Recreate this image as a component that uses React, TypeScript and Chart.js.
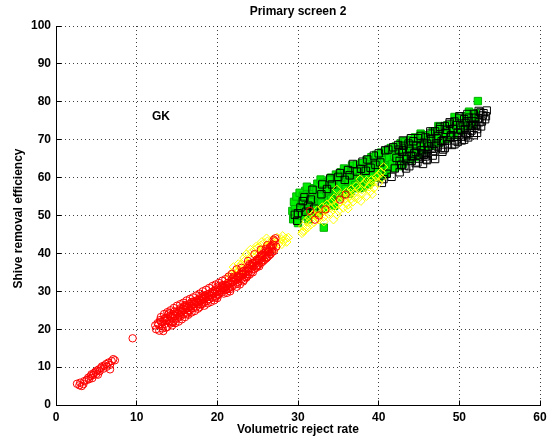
import React, { useEffect, useRef } from 'react';
import { Chart, registerables } from 'chart.js';

Chart.register(...registerables);

const X_TICKS = [0, 10, 20, 30, 40, 50, 60];
const Y_TICKS = [0, 10, 20, 30, 40, 50, 60, 70, 80, 90, 100];
const TITLE = 'Primary screen 2';
const X_LABEL = 'Volumetric reject rate';
const Y_LABEL = 'Shive removal efficiency';
const NOTE_TEXT = 'GK';
const NOTE_POS = [11.9, 76.1];

// red open circles
const redCircles: number[][] = [
  // low cluster
  [2.6, 5.6], [2.9, 5.2], [3.2, 5.0], [3.4, 5.5], [3.5, 6.3], [3.8, 6.6], [4.0, 7.2], [4.1, 6.8], [4.3, 7.6], [4.4, 8.1],
  [4.6, 7.9], [4.7, 8.4], [4.9, 8.8], [5.0, 8.2], [5.1, 9.1], [5.3, 9.4], [5.4, 8.9], [5.6, 9.8], [5.7, 10.2], [5.9, 9.6],
  [6.0, 10.4], [6.2, 10.8], [6.3, 10.1], [6.5, 11.2], [6.7, 10.6], [6.9, 11.6], [7.1, 12.1], [7.3, 11.8], [4.5, 7.1], [5.2, 8.0],
  [6.7, 9.4], [3.0, 5.9],
  // lone point
  [9.5, 17.6],
  // main band
  [12.3, 21.0], [12.4, 20.0], [12.6, 21.6], [12.8, 19.6], [13.0, 22.0], [13.1, 20.8], [13.3, 19.5], [13.4, 22.6], [13.5, 21.4], [13.7, 23.0],
  [13.8, 20.6], [14.0, 22.1], [14.1, 23.5], [14.2, 21.5], [14.4, 22.9], [14.5, 24.0], [14.6, 22.2], [14.8, 23.4], [14.9, 24.5], [15.0, 22.8],
  [15.2, 24.1], [15.3, 25.0], [15.4, 23.3], [15.6, 24.7], [15.7, 25.6], [15.8, 23.9], [16.0, 25.2], [16.1, 26.1], [16.2, 24.4], [16.4, 25.7],
  [16.5, 26.6], [16.6, 24.9], [16.8, 26.2], [16.9, 27.0], [17.0, 25.6], [17.2, 26.7], [17.3, 27.5], [17.4, 26.0], [17.6, 27.1], [17.7, 27.9],
  [17.8, 25.8], [17.9, 26.5], [18.0, 27.6], [18.1, 28.4], [18.3, 27.0], [18.4, 28.0], [18.5, 28.8], [18.7, 27.4], [18.8, 28.5], [18.9, 29.3],
  [19.0, 27.9], [19.2, 28.9], [19.3, 29.8], [19.4, 28.3], [19.6, 29.4], [19.7, 30.3], [19.8, 28.8], [20.0, 29.9], [20.1, 30.8], [20.2, 29.3],
  [20.4, 30.4], [20.5, 31.2], [20.6, 29.8], [20.8, 30.9], [20.9, 31.7], [21.0, 30.3], [21.1, 30.5], [21.2, 31.4], [21.3, 32.2], [21.5, 31.0],
  [21.6, 32.0], [21.7, 32.8], [21.8, 31.2], [22.0, 32.5], [22.1, 33.4], [22.2, 31.8], [22.4, 33.1], [22.5, 34.0], [22.6, 32.5], [22.8, 33.7],
  [22.9, 34.7], [23.0, 33.2], [23.2, 34.4], [23.3, 35.4], [23.4, 33.8], [23.6, 35.0], [23.7, 36.1], [23.8, 34.5], [24.0, 35.8], [24.1, 36.9],
  [24.2, 35.1], [24.4, 36.6], [24.5, 37.6], [24.6, 35.9], [24.8, 37.4], [24.9, 38.4], [25.0, 36.8], [25.2, 38.1], [25.3, 39.2], [25.4, 37.5],
  [25.6, 38.9], [25.7, 40.0], [25.8, 38.2], [26.0, 39.6], [26.1, 40.8], [26.2, 39.0], [26.4, 40.4], [26.5, 41.6], [26.6, 39.8], [26.8, 41.1],
  [26.9, 42.3], [27.0, 40.6], [27.1, 43.2], [27.3, 41.8], [27.2, 44.0],
  [12.7, 21.2], [13.2, 21.9], [13.6, 22.3], [14.3, 23.2], [14.7, 23.6], [15.1, 24.3], [15.5, 24.6], [15.9, 25.0], [16.3, 25.6], [16.7, 26.0],
  [17.1, 26.6], [17.5, 27.0], [17.9, 27.4], [18.2, 27.9], [18.6, 28.3], [19.1, 28.9], [19.5, 29.4], [19.9, 29.8], [20.3, 30.4], [20.7, 30.8],
  [21.1, 31.4], [21.4, 31.8], [21.9, 32.5], [22.3, 33.2], [22.7, 33.9], [23.1, 34.6], [23.5, 35.3], [23.9, 36.1], [24.3, 36.8], [24.7, 37.7],
  [25.1, 38.5], [25.5, 39.2], [25.9, 40.1], [26.3, 40.7], [26.7, 41.5], [13.9, 23.9], [15.4, 25.5], [16.8, 27.2], [18.5, 29.0], [20.6, 31.6],
  [22.6, 33.6], [24.4, 37.4], [26.0, 41.2], [14.5, 21.8], [16.3, 24.1], [18.1, 26.6], [19.8, 28.4], [21.6, 30.6], [23.3, 33.0], [25.1, 37.0],
  [12.9, 22.4], [13.5, 22.9], [14.1, 22.0], [14.7, 24.7], [15.3, 23.6], [15.9, 26.0], [16.5, 25.0], [17.1, 27.3], [17.7, 26.6], [18.3, 28.6],
  [18.9, 27.9], [19.5, 30.0], [20.1, 29.0], [20.7, 31.6], [21.3, 30.6], [21.9, 33.4], [22.5, 32.0], [23.1, 35.2], [23.7, 34.0], [24.3, 37.4],
  [24.9, 36.6], [25.5, 39.6], [26.1, 38.8], [26.7, 42.0], [14.0, 24.2], [16.0, 26.4], [18.0, 28.8], [20.0, 31.2], [22.0, 33.8], [24.0, 37.2],
  // upper side of the band
  [13.0, 23.2], [13.8, 24.5], [14.6, 25.6], [15.4, 26.6], [16.2, 27.6], [17.0, 28.4], [17.8, 29.4], [18.6, 30.4], [19.4, 31.4], [20.2, 32.2],
  [21.0, 33.2], [21.8, 34.6], [22.4, 35.8], [13.4, 24.0], [14.2, 25.0], [15.0, 26.2], [15.8, 27.0], [16.6, 28.0], [17.4, 28.9], [18.2, 30.0],
  [19.0, 30.9], [19.8, 31.8], [20.6, 32.8], [21.4, 33.9], [23.0, 36.2], [23.8, 38.0], [24.6, 39.8], [25.4, 41.0], [26.2, 42.2], [27.0, 43.6],
  // lower side of the band
  [13.6, 20.4], [14.4, 21.0], [15.2, 22.0], [16.0, 23.2], [16.8, 24.4], [17.6, 25.4], [18.4, 26.2], [19.2, 27.2], [20.0, 28.2], [20.8, 29.4],
  [21.6, 30.0], [22.4, 31.2], [23.2, 32.6], [24.0, 34.4], [24.8, 36.2], [25.6, 37.8], [26.4, 39.4], [13.2, 20.2], [14.8, 21.6], [15.6, 22.6],
  [16.4, 23.8], [17.2, 24.8], [18.8, 26.8], [19.6, 27.6], [21.2, 29.6], [22.8, 31.8], [23.6, 33.6], [24.4, 35.0], [25.2, 36.6], [26.0, 38.6],
  [26.8, 40.4],
  // among the second cluster
  [31.5, 51.2], [32.1, 48.9], [32.6, 50.0], [35.2, 54.2], [35.9, 55.5], [33.4, 51.6],
];

// yellow open diamonds
const yellowDiamonds: number[][] = [
  [21.6, 34.2], [21.9, 35.0], [22.2, 35.6], [22.5, 34.9], [22.7, 36.4], [23.0, 37.2], [23.2, 36.0], [23.4, 38.1], [23.6, 39.8], [23.8, 37.4],
  [24.0, 38.8], [24.2, 40.2], [24.4, 39.1], [24.6, 40.9], [24.8, 38.2], [25.0, 41.5], [25.2, 40.0], [25.4, 42.1], [25.6, 41.0], [25.8, 42.8],
  [26.0, 41.6], [26.2, 43.2], [26.4, 40.6], [26.6, 42.4], [26.8, 43.6], [27.0, 42.0], [27.3, 43.0], [27.6, 42.5], [27.9, 43.8], [28.2, 43.2],
  [28.5, 44.0], [24.9, 36.6], [25.5, 38.0], [26.3, 39.2], [23.9, 35.9], [22.9, 35.1], [27.2, 41.2], [28.0, 42.4],
  [22.0, 36.4], [22.6, 37.2], [23.3, 38.8], [24.1, 41.0], [24.8, 41.8], [25.5, 43.0], [26.1, 44.0], [26.7, 43.0], [27.4, 44.2], [28.1, 44.6],
  [28.6, 43.0], [28.8, 44.2], [21.4, 33.4], [22.3, 34.2],
  [30.5, 45.3], [30.6, 47.2], [30.8, 46.0], [31.0, 48.6], [31.2, 46.8], [31.4, 49.4], [31.6, 47.6], [31.8, 50.2], [32.0, 48.2], [32.2, 49.8],
  [32.4, 51.4], [32.6, 48.9], [32.8, 50.6], [33.0, 52.2], [33.2, 49.6], [33.4, 51.3], [33.6, 53.0], [33.8, 50.4], [34.0, 52.0], [34.2, 53.8],
  [34.4, 48.9], [34.6, 52.8], [34.8, 56.9], [35.0, 51.2], [35.2, 53.6], [35.4, 55.4], [35.6, 52.0], [35.8, 54.4], [36.0, 56.2], [36.2, 52.8],
  [36.4, 55.2], [36.6, 57.0], [36.8, 53.6], [37.0, 56.0], [37.2, 57.8], [37.4, 54.4], [37.7, 59.6], [37.9, 56.8], [38.2, 58.4], [38.5, 55.1],
  [38.8, 57.6], [39.1, 59.4], [39.4, 57.2], [39.7, 60.2], [40.0, 58.6], [40.3, 61.4], [40.6, 62.8], [40.4, 59.8], [39.0, 56.4], [36.6, 54.4],
  [30.6, 45.8], [31.0, 47.0], [31.5, 48.4], [32.0, 50.4], [32.5, 49.4], [33.0, 50.8], [33.5, 52.0], [34.0, 50.8], [34.5, 54.6], [35.0, 53.0],
  [35.5, 54.8], [36.0, 53.2], [36.5, 56.0], [37.0, 54.8], [37.5, 57.0], [38.0, 55.8], [38.5, 59.2], [39.0, 58.4], [39.5, 59.0], [40.0, 60.6],
  [33.2, 48.4], [34.8, 50.2], [36.2, 51.8], [37.8, 53.8], [39.2, 55.6],
];

// green filled squares
const greenSquares: number[][] = [
  [29.3, 51.2], [29.4, 49.0], [29.6, 52.6], [29.9, 50.2], [30.1, 54.0], [30.3, 51.4], [30.5, 53.2], [30.7, 49.8], [30.9, 56.5], [31.0, 52.8],
  [31.2, 54.8], [31.4, 51.2], [31.6, 56.0], [31.8, 53.6], [32.0, 57.2], [32.2, 54.4], [32.4, 58.4], [32.6, 52.6], [32.8, 59.5], [33.0, 55.6],
  [33.2, 46.8], [33.3, 57.4], [33.5, 54.2], [33.7, 58.8], [33.9, 56.0], [34.1, 60.0], [34.3, 55.0], [34.5, 58.0], [34.7, 60.8], [34.9, 56.6],
  [35.1, 59.2], [35.3, 61.4], [35.5, 57.4], [35.7, 60.0], [35.9, 62.0], [36.1, 58.2], [36.3, 55.8], [36.5, 61.0], [36.7, 63.2], [36.9, 59.2],
  [37.1, 61.8], [37.3, 57.8], [37.5, 60.2], [37.7, 62.6], [37.9, 58.8], [38.1, 61.2], [38.3, 63.4], [38.5, 59.8], [38.7, 62.0], [38.9, 64.2],
  [39.1, 60.6], [39.3, 62.8], [39.5, 64.8], [39.7, 61.2], [39.9, 63.6], [40.1, 65.4], [40.3, 61.8], [40.5, 64.2], [40.7, 66.0], [40.9, 62.6],
  [41.1, 64.8], [41.3, 66.6], [41.5, 63.2], [41.7, 65.4], [41.9, 67.2], [42.1, 63.8], [42.4, 66.0], [42.7, 67.8], [43.0, 64.6], [43.3, 66.6],
  [43.6, 68.4], [43.9, 65.2], [44.2, 67.2], [44.5, 69.0], [44.8, 66.0],
  [45.1, 68.0], [45.4, 70.2], [45.7, 67.2], [46.0, 69.4], [46.3, 71.0], [46.6, 68.4], [46.9, 70.4], [47.2, 72.0], [47.5, 69.2], [47.8, 71.4],
  [48.1, 73.0], [48.4, 70.2], [48.7, 72.4], [49.0, 74.0], [49.3, 71.2], [49.6, 73.4], [49.9, 75.2], [50.2, 72.4], [50.5, 74.6], [50.8, 76.2],
  [51.1, 73.6], [51.4, 75.6], [51.7, 74.2], [52.0, 77.0], [52.3, 80.2], [51.2, 77.4], [49.4, 76.0], [47.4, 73.6], [45.2, 71.6], [43.1, 69.6],
  [29.5, 53.6], [29.8, 55.0], [30.0, 48.0], [30.2, 56.0], [30.4, 50.0], [30.6, 55.2], [30.8, 51.6], [31.1, 57.6], [31.3, 49.0], [31.5, 53.8],
  [31.7, 50.4], [31.9, 55.6], [32.1, 52.0], [32.3, 56.6], [32.5, 50.6], [32.7, 55.0], [32.9, 53.4], [33.1, 58.6], [33.3, 51.8], [33.5, 56.6],
  [33.7, 53.0], [33.9, 59.4], [34.1, 54.4], [34.3, 57.6], [34.5, 52.6], [34.7, 56.2], [34.9, 59.8], [35.1, 54.8], [35.3, 58.0], [35.5, 55.6],
  [35.7, 62.4], [35.9, 57.0], [36.1, 60.6], [36.3, 59.0], [36.5, 56.4], [36.7, 58.6], [36.9, 62.0], [37.1, 58.0], [37.3, 63.4], [37.5, 57.2],
  [37.7, 60.4], [37.9, 63.8], [38.1, 59.0], [38.3, 61.6], [38.5, 64.6], [38.7, 60.0], [38.9, 62.6], [39.1, 65.4], [39.3, 60.4], [39.5, 63.0],
  [39.7, 66.0], [39.9, 61.4], [40.1, 63.8], [40.3, 66.6], [40.5, 62.2], [40.7, 64.6], [40.9, 67.0], [41.1, 62.8], [41.3, 65.2], [41.5, 67.8],
  [41.7, 63.6], [41.9, 65.8], [42.1, 68.2], [42.3, 64.4], [42.5, 66.6], [42.7, 69.0], [42.9, 65.0], [43.1, 67.2], [43.3, 69.4], [43.5, 65.8],
  [43.7, 67.6], [43.9, 70.0], [44.1, 66.4], [44.3, 68.6], [44.5, 70.6], [44.7, 67.0], [44.9, 69.4],
  [45.3, 69.0], [45.8, 71.2], [46.2, 69.8], [46.7, 72.2], [47.1, 70.8], [47.6, 72.8], [48.0, 71.6], [48.5, 73.8], [48.9, 72.6], [49.4, 74.8],
  [49.8, 73.2], [50.3, 75.6], [50.7, 73.8], [51.2, 76.0], [51.6, 75.0], [52.0, 75.8],
  [38.0, 57.4], [39.0, 58.8], [40.0, 60.0], [41.0, 61.2], [42.0, 62.6], [43.0, 63.6], [44.0, 64.8], [45.0, 66.2], [38.6, 58.2], [40.6, 60.8],
  [42.6, 63.0], [44.6, 65.4],
];

// black open squares
const blackSquares: number[][] = [
  [30.0, 50.6], [30.3, 52.1], [30.6, 53.8], [31.0, 51.0], [31.3, 52.6], [29.9, 48.6], [32.0, 51.8], [32.9, 55.6], [33.6, 57.0], [34.2, 58.2],
  [35.0, 60.2], [35.8, 59.4], [36.4, 60.6], [37.3, 61.6], [37.8, 62.3], [38.4, 61.8], [39.0, 62.6], [39.6, 63.4], [40.2, 64.0],
  [40.6, 59.6], [41.2, 67.4], [41.8, 68.0], [42.4, 68.6], [43.0, 69.8], [41.0, 61.0], [42.0, 62.4],
  [42.6, 64.4], [42.9, 66.8], [43.2, 63.2], [43.5, 65.6], [43.8, 67.6], [44.1, 64.4], [44.4, 66.4], [44.7, 68.4], [45.0, 65.0], [45.3, 67.2],
  [45.6, 69.2], [45.9, 64.8], [46.0, 66.2], [46.2, 68.2], [46.5, 70.2], [46.8, 67.0], [47.1, 69.0], [47.4, 71.0], [47.7, 67.8], [48.0, 69.8],
  [48.3, 71.8], [48.6, 68.8], [48.9, 70.8], [49.2, 72.8], [49.5, 69.8], [49.8, 71.8], [50.1, 73.8], [50.4, 70.8], [50.7, 72.8], [51.0, 74.8],
  [51.3, 71.8], [51.6, 73.8], [51.9, 75.8], [52.2, 72.8], [52.5, 74.6], [52.7, 73.5], [52.9, 76.4], [53.2, 75.4], [53.4, 77.7], [52.6, 77.2],
  [44.0, 70.4], [45.2, 71.0], [46.4, 72.2], [47.6, 73.4], [48.8, 74.6], [50.0, 75.8], [51.0, 76.8], [43.4, 62.4], [44.6, 63.8], [45.8, 65.6],
  [47.0, 64.9], [48.2, 67.8], [49.4, 68.8], [50.6, 70.0], [51.8, 71.2], [46.0, 64.6], [43.0, 67.2], [44.2, 65.6], [45.4, 66.4], [46.6, 67.6],
  [47.8, 69.6], [49.0, 71.2], [50.2, 72.6], [51.4, 73.6], [52.4, 75.6], [48.4, 72.6], [49.6, 73.8], [50.8, 74.4], [47.2, 70.4], [46.0, 69.0],
  [42.2, 65.2], [42.5, 67.4], [42.8, 63.4], [43.1, 68.4], [43.4, 64.8], [43.7, 69.0], [44.0, 65.8], [44.3, 69.6], [44.6, 66.8], [44.9, 70.4],
  [45.2, 68.2], [45.5, 63.6], [45.8, 70.6], [46.1, 67.2], [46.4, 71.6], [46.7, 65.8], [47.0, 72.2], [47.3, 68.2], [47.6, 72.8], [47.9, 66.8],
  [48.2, 73.6], [48.5, 69.8], [48.8, 74.2], [49.1, 68.6], [49.4, 74.8], [49.7, 70.8], [50.0, 76.2], [50.3, 69.8], [50.6, 75.4], [50.9, 71.6],
  [51.2, 75.8], [51.5, 72.4], [51.8, 76.8], [52.1, 74.0], [52.4, 77.6], [52.8, 74.8], [53.0, 77.0], [53.3, 76.2], [52.2, 71.8], [51.1, 70.6],
  [33.0, 58.2], [34.0, 59.8], [35.2, 61.2], [36.2, 62.0], [36.8, 63.6], [38.0, 64.2], [38.6, 64.8], [39.4, 65.8], [40.0, 66.4], [40.8, 67.2],
  [31.8, 56.8], [30.8, 54.8], [40.4, 58.6], [41.6, 60.2],
  [42.6, 61.4], [43.8, 63.0], [44.8, 64.0], [45.6, 66.0], [48.0, 67.4], [49.8, 69.4], [50.8, 71.2], [52.0, 73.6], [29.6, 50.2], [31.6, 54.2],
];

const FONT_FAMILY = "'Liberation Sans', Arial, Helvetica, sans-serif";

const toXY = (pts: number[][]) => pts.map(([x, y]) => ({ x, y }));

const matlabPlugin = {
  id: 'matlabDecor',
  afterDraw(chart: any) {
    const { ctx, chartArea, scales } = chart;
    const xs = scales.x;
    const ys = scales.y;
    const al = (p: number) => Math.round(p - 0.5) + 0.5;
    ctx.save();
    ctx.strokeStyle = '#000';
    ctx.lineWidth = 1;
    ctx.setLineDash([]);
    ctx.beginPath();
    for (const v of X_TICKS) {
      const p = al(xs.getPixelForValue(v));
      ctx.moveTo(p, al(chartArea.bottom));
      ctx.lineTo(p, al(chartArea.bottom) - 5);
    }
    for (const v of Y_TICKS) {
      const p = al(ys.getPixelForValue(v));
      ctx.moveTo(al(chartArea.left), p);
      ctx.lineTo(al(chartArea.left) + 5, p);
    }
    ctx.stroke();

    ctx.fillStyle = '#000';
    ctx.font = `bold 12px ${FONT_FAMILY}`;
    ctx.textAlign = 'center';
    ctx.textBaseline = 'middle';
    const cx = (chartArea.left + chartArea.right) / 2;
    ctx.fillText(TITLE, cx, chartArea.top - 14);
    ctx.fillText(X_LABEL, cx, chartArea.bottom + 25);
    ctx.save();
    ctx.translate(19, (chartArea.top + chartArea.bottom) / 2 + 3);
    ctx.rotate(-Math.PI / 2);
    ctx.fillText(Y_LABEL, 0, 0);
    ctx.restore();
    ctx.textAlign = 'left';
    ctx.fillText(NOTE_TEXT, xs.getPixelForValue(NOTE_POS[0]), ys.getPixelForValue(NOTE_POS[1]));
    ctx.restore();
  },
};

export default function App() {
  const ref = useRef<HTMLCanvasElement | null>(null);

  useEffect(() => {
    document.body.style.margin = '0';
    const canvas = ref.current;
    if (!canvas) return;
    const tickFont = { family: FONT_FAMILY, size: 12, weight: 'bold' as const };
    const chart = new Chart(canvas, {
      type: 'scatter',
      data: {
        datasets: [
          {
            label: 'red',
            data: toXY(redCircles),
            pointStyle: 'circle',
            pointRadius: 3.7,
            pointBorderWidth: 1,
            pointBorderColor: '#ff0000',
            pointBackgroundColor: 'rgba(0,0,0,0)',
            order: 0,
          },
          {
            label: 'yellow',
            data: toXY(yellowDiamonds),
            pointStyle: 'rectRot',
            pointRadius: 4.3,
            pointBorderWidth: 1,
            pointBorderColor: '#ffff00',
            pointBackgroundColor: 'rgba(0,0,0,0)',
            order: 1,
          },
          {
            label: 'black',
            data: toXY(blackSquares),
            pointStyle: 'rect',
            pointRadius: 5.2,
            pointBorderWidth: 1,
            pointBorderColor: '#000000',
            pointBackgroundColor: 'rgba(0,0,0,0)',
            order: 2,
          },
          {
            label: 'green',
            data: toXY(greenSquares),
            pointStyle: 'rect',
            pointRadius: 5.2,
            pointBorderWidth: 1,
            pointBorderColor: '#00b000',
            pointBackgroundColor: '#00ee00',
            order: 3,
          },
        ],
      },
      options: {
        responsive: false,
        animation: false,
        events: [],
        devicePixelRatio: 1,
        layout: { padding: { top: 26, right: 12, left: 0, bottom: 0 } },
        plugins: {
          legend: { display: false },
          tooltip: { enabled: false },
          title: { display: false },
        },
        scales: {
          x: {
            type: 'linear',
            min: 0,
            max: 60,
            ticks: { stepSize: 10, color: '#000', font: tickFont, padding: 5, maxRotation: 0, autoSkip: false },
            grid: { color: 'rgba(0,0,0,0.75)', lineWidth: 1, drawTicks: false },
            border: { display: true, color: '#000', width: 1, dash: [1, 3] },
            afterFit: (s: any) => {
              s.height = 35;
              s.paddingLeft = 0;
              s.paddingRight = 0;
            },
          },
          y: {
            type: 'linear',
            min: 0,
            max: 100,
            ticks: { stepSize: 10, color: '#000', font: tickFont, padding: 5, autoSkip: false },
            grid: { color: 'rgba(0,0,0,0.75)', lineWidth: 1, drawTicks: false },
            border: { display: true, color: '#000', width: 1, dash: [1, 3] },
            afterFit: (s: any) => {
              s.width = 56;
              s.paddingTop = 0;
              s.paddingBottom = 0;
            },
          },
        },
      },
      plugins: [matlabPlugin],
    });
    return () => chart.destroy();
  }, []);

  return (
    <div style={{ position: 'fixed', left: 0, top: 0, width: 552, height: 440, background: '#fff' }}>
      <canvas ref={ref} width={552} height={440} style={{ display: 'block' }} />
    </div>
  );
}
